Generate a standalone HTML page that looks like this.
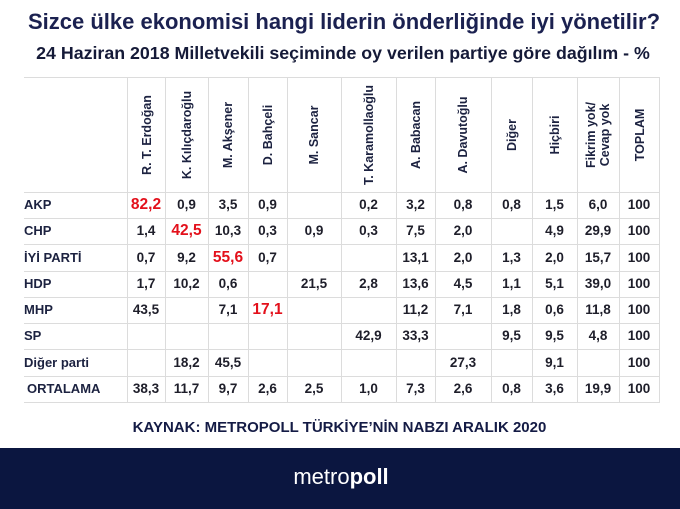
<!DOCTYPE html>
<html>
<head>
<meta charset="utf-8">
<style>
html,body{margin:0;padding:0;}
body{width:680px;height:509px;position:relative;overflow:hidden;background:#fff;font-family:"Liberation Sans",Arial,sans-serif;}
.abs{position:absolute;white-space:nowrap;}
.title{left:0;width:688px;top:11px;text-align:center;font-weight:bold;font-size:22px;line-height:22px;color:#1b2150;}
.sub{left:0;width:686px;top:44px;text-align:center;font-weight:bold;font-size:17.8px;line-height:18px;color:#151a38;}
.hl{position:absolute;height:1px;background:#dcdcdc;left:24px;width:636px;}
.vl{position:absolute;width:1px;background:#dcdcdc;top:77px;height:326px;}
.hd{position:absolute;font-weight:bold;font-size:12.5px;line-height:14px;color:#1c2240;white-space:nowrap;text-align:center;transform:translate(-50%,-50%) rotate(-90deg);top:135px;}
.lab{position:absolute;font-weight:bold;font-size:13px;color:#1c2240;white-space:nowrap;}
.num{position:absolute;font-weight:bold;font-size:13.5px;color:#1e1e2a;text-align:center;white-space:nowrap;}
.red{color:#e3101b;font-size:15.5px;}
.src{left:0;width:679px;top:420px;text-align:center;font-weight:bold;font-size:15px;line-height:15px;color:#141b45;}
.foot{position:absolute;left:0;top:448px;width:680px;height:61px;background:#0b1640;}
.logo{left:0;width:682px;top:466px;text-align:center;font-size:22px;line-height:22px;color:#fff;}
</style>
</head>
<body>
<div class="abs title">Sizce ülke ekonomisi hangi liderin önderliğinde iyi yönetilir?</div>
<div class="abs sub">24 Haziran 2018 Milletvekili seçiminde oy verilen partiye göre dağılım - %</div>

<!-- horizontal lines -->
<div class="hl" style="top:77px"></div>
<div class="hl" style="top:192px"></div>
<div class="hl" style="top:218px"></div>
<div class="hl" style="top:244px"></div>
<div class="hl" style="top:271px"></div>
<div class="hl" style="top:297px"></div>
<div class="hl" style="top:323px"></div>
<div class="hl" style="top:349px"></div>
<div class="hl" style="top:376px"></div>
<div class="hl" style="top:402px"></div>

<!-- vertical lines -->
<div class="vl" style="left:127px"></div>
<div class="vl" style="left:165px"></div>
<div class="vl" style="left:208px"></div>
<div class="vl" style="left:248px"></div>
<div class="vl" style="left:287px"></div>
<div class="vl" style="left:341px"></div>
<div class="vl" style="left:396px"></div>
<div class="vl" style="left:435px"></div>
<div class="vl" style="left:491px"></div>
<div class="vl" style="left:532px"></div>
<div class="vl" style="left:577px"></div>
<div class="vl" style="left:619px"></div>
<div class="vl" style="left:659px"></div>

<!-- headers -->
<div class="hd" style="left:147px">R. T. Erdoğan</div>
<div class="hd" style="left:187px">K. Kılıçdaroğlu</div>
<div class="hd" style="left:228px">M. Akşener</div>
<div class="hd" style="left:268px">D. Bahçeli</div>
<div class="hd" style="left:314px">M. Sancar</div>
<div class="hd" style="left:369px">T. Karamollaoğlu</div>
<div class="hd" style="left:416px">A. Babacan</div>
<div class="hd" style="left:463px">A. Davutoğlu</div>
<div class="hd" style="left:512px">Diğer</div>
<div class="hd" style="left:555px">Hiçbiri</div>
<div class="hd" style="left:598px">Fikrim yok/<br>Cevap yok</div>
<div class="hd" style="left:640px">TOPLAM</div>

<!-- row labels -->
<div class="lab" style="left:24px;top:192px;line-height:26px">AKP</div>
<div class="lab" style="left:24px;top:218px;line-height:26px">CHP</div>
<div class="lab" style="left:24px;top:244px;line-height:27px">İYİ PARTİ</div>
<div class="lab" style="left:24px;top:271px;line-height:26px">HDP</div>
<div class="lab" style="left:24px;top:297px;line-height:26px">MHP</div>
<div class="lab" style="left:24px;top:323px;line-height:26px">SP</div>
<div class="lab" style="left:24px;top:349px;line-height:27px">Diğer parti</div>
<div class="lab" style="left:27px;top:376px;line-height:26px">ORTALAMA</div>

<div id="cells"></div>
<script>
var cols=[127,165,208,248,287,341,396,435,491,532,577,619,659];
var rows=[[192,218],[218,244],[244,271],[271,297],[297,323],[323,349],[349,376],[376,402]];
var data=[
["82,2*","0,9","3,5","0,9","","0,2","3,2","0,8","0,8","1,5","6,0","100"],
["1,4","42,5*","10,3","0,3","0,9","0,3","7,5","2,0","","4,9","29,9","100"],
["0,7","9,2","55,6*","0,7","","","13,1","2,0","1,3","2,0","15,7","100"],
["1,7","10,2","0,6","","21,5","2,8","13,6","4,5","1,1","5,1","39,0","100"],
["43,5","","7,1","17,1*","","","11,2","7,1","1,8","0,6","11,8","100"],
["","","","","","42,9","33,3","","9,5","9,5","4,8","100"],
["","18,2","45,5","","","","","27,3","","9,1","","100"],
["38,3","11,7","9,7","2,6","2,5","1,0","7,3","2,6","0,8","3,6","19,9","100"]
];
var h="";
for(var r=0;r<data.length;r++){
 for(var c=0;c<12;c++){
  var v=data[r][c]; if(!v) continue;
  var red=v.indexOf("*")>=0; v=v.replace("*","");
  var l=cols[c], w=cols[c+1]-cols[c], t=rows[r][0], ht=rows[r][1]-rows[r][0];
  h+='<div class="num'+(red?' red':'')+'" style="left:'+l+'px;width:'+w+'px;top:'+t+'px;height:'+ht+'px;line-height:'+ht+'px">'+v+'</div>';
 }
}
document.getElementById("cells").innerHTML=h;
</script>

<div class="abs src">KAYNAK: METROPOLL TÜRKİYE’NİN NABZI ARALIK 2020</div>
<div class="foot"></div>
<div class="abs logo"><span style="font-weight:normal">metro</span><span style="font-weight:bold">poll</span></div>
</body>
</html>
